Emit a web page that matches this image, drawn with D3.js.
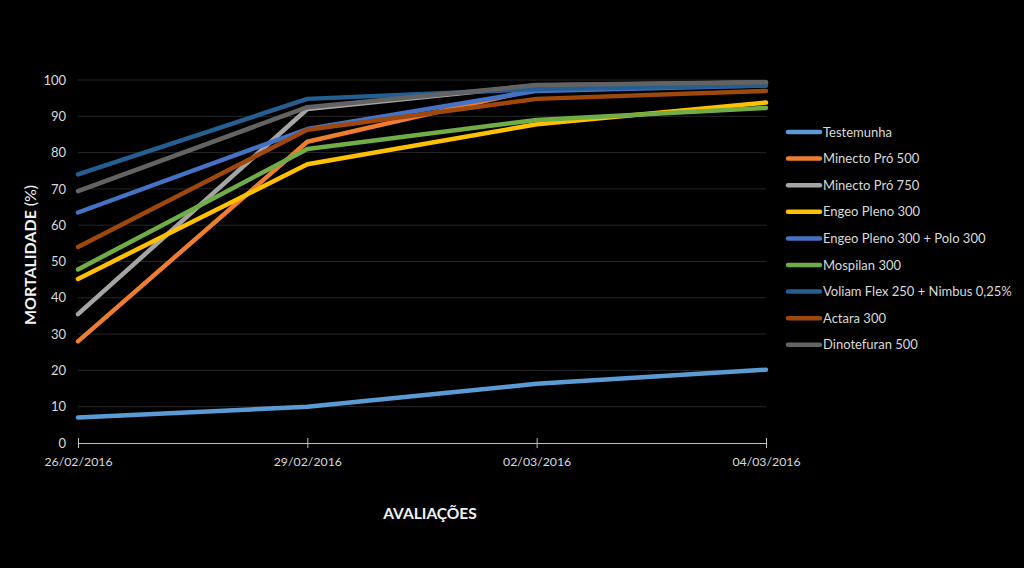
<!DOCTYPE html>
<html><head><meta charset="utf-8">
<script src="https://cdn.jsdelivr.net/npm/d3@7"></script>
<style>body{margin:0;background:#000;}svg{display:block;}</style>
</head><body>
<svg id="c" width="1024" height="568"></svg>
<script>
const categories = ["26/02/2016","29/02/2016","02/03/2016","04/03/2016"];
const seriesNames = ["Testemunha","Minecto Pró 500","Minecto Pró 750","Engeo Pleno 300","Engeo Pleno 300 + Polo 300","Mospilan 300","Voliam Flex 250 + Nimbus 0,25%","Actara 300","Dinotefuran 500"];
const testemunha = [7, 10, 16.3, 20.2];
const minecto500 = [28, 83, 97.5, 99];
const minecto750 = [35.5, 92, 98.5, 99.3];
const engeo300 = [45.2, 76.8, 87.8, 93.8];
const engeoPolo = [63.5, 86.5, 97, 98.5];
const mospilan = [47.8, 81, 89, 92.3];
const voliam = [74, 94.8, 97.5, 98.5];
const actara = [54, 86.3, 94.8, 97];
const dinotefuran = [69.4, 92.5, 98.6, 99.4];
const yTicks = [0,10,20,30,40,50,60,70,80,90,100];
const colors = ["#5B9BD5","#ED7D31","#A5A5A5","#FFC000","#4472C4","#70AD47","#255E91","#9E480E","#636363"];

const seriesValues = [testemunha, minecto500, minecto750, engeo300, engeoPolo, mospilan, voliam, actara, dinotefuran];
const font = "Lato, 'Open Sans', sans-serif";
const svg = d3.select("#c");
svg.append("rect").attr("width",1024).attr("height",568).attr("fill","#000");

const x = d3.scalePoint().domain(categories).range([78, 766]);
const y = d3.scaleLinear().domain([0,100]).range([443, 80]);

// gridlines
svg.append("g").selectAll("line").data(yTicks.filter(d=>d>0)).join("line")
  .attr("x1",78).attr("x2",766).attr("y1",d=>y(d)).attr("y2",d=>y(d))
  .attr("stroke","#262626").attr("stroke-width",1);

// y axis labels
const ya = svg.append("g").attr("transform","translate(78,0)")
  .call(d3.axisLeft(y).tickValues(yTicks).tickSize(0).tickPadding(12));
ya.select(".domain").remove();
ya.selectAll("text").attr("fill","#d9d9d9").style("font-family",font).style("font-size","13px");

// x axis
const xa = svg.append("g").attr("transform","translate(0,443)")
  .call(d3.axisBottom(x).tickSizeInner(6).tickSizeOuter(0).tickPadding(8));
xa.select(".domain").attr("stroke","#bfbfbf");
xa.selectAll(".tick line").attr("stroke","#bfbfbf").attr("y1",-5).attr("y2",5);
xa.selectAll("text").attr("fill","#d9d9d9").style("font-family",font).style("font-size","12.3px");

// lines
const line = d3.line().x((d,i)=>x(categories[i])).y(d=>y(d));
svg.append("g").selectAll("path").data(seriesValues).join("path")
  .attr("d",d=>line(d)).attr("fill","none")
  .attr("stroke",(d,i)=>colors[i]).attr("stroke-width",4.5)
  .attr("stroke-linejoin","round").attr("stroke-linecap","round");

// axis titles
const yt = svg.append("text").attr("transform","translate(36,255) rotate(-90)")
  .attr("text-anchor","middle").attr("fill","#f2f2f2")
  .style("font-family",font).style("font-size","16px");
yt.append("tspan").style("font-weight","bold").text("MORTALIDADE ");
yt.append("tspan").style("font-weight","normal").text("(%)");
svg.append("text").attr("x",430).attr("y",519).attr("text-anchor","middle").attr("fill","#f2f2f2")
  .style("font-family",font).style("font-size","15.5px").style("font-weight","bold")
  .text("AVALIAÇÕES");

// legend
const lg = svg.append("g").selectAll("g").data(seriesNames).join("g")
  .attr("transform",(d,i)=>`translate(788,${132 + i*26.6})`);
lg.append("line").attr("x1",0).attr("x2",32).attr("y1",0).attr("y2",0)
  .attr("stroke",(d,i)=>colors[i]).attr("stroke-width",4.5).attr("stroke-linecap","round");
lg.append("text").attr("x",35).attr("y",0).attr("dy","0.35em").attr("fill","#d9d9d9")
  .style("font-family",font).style("font-size","13px").text(d=>d);
</script>
</body></html>
